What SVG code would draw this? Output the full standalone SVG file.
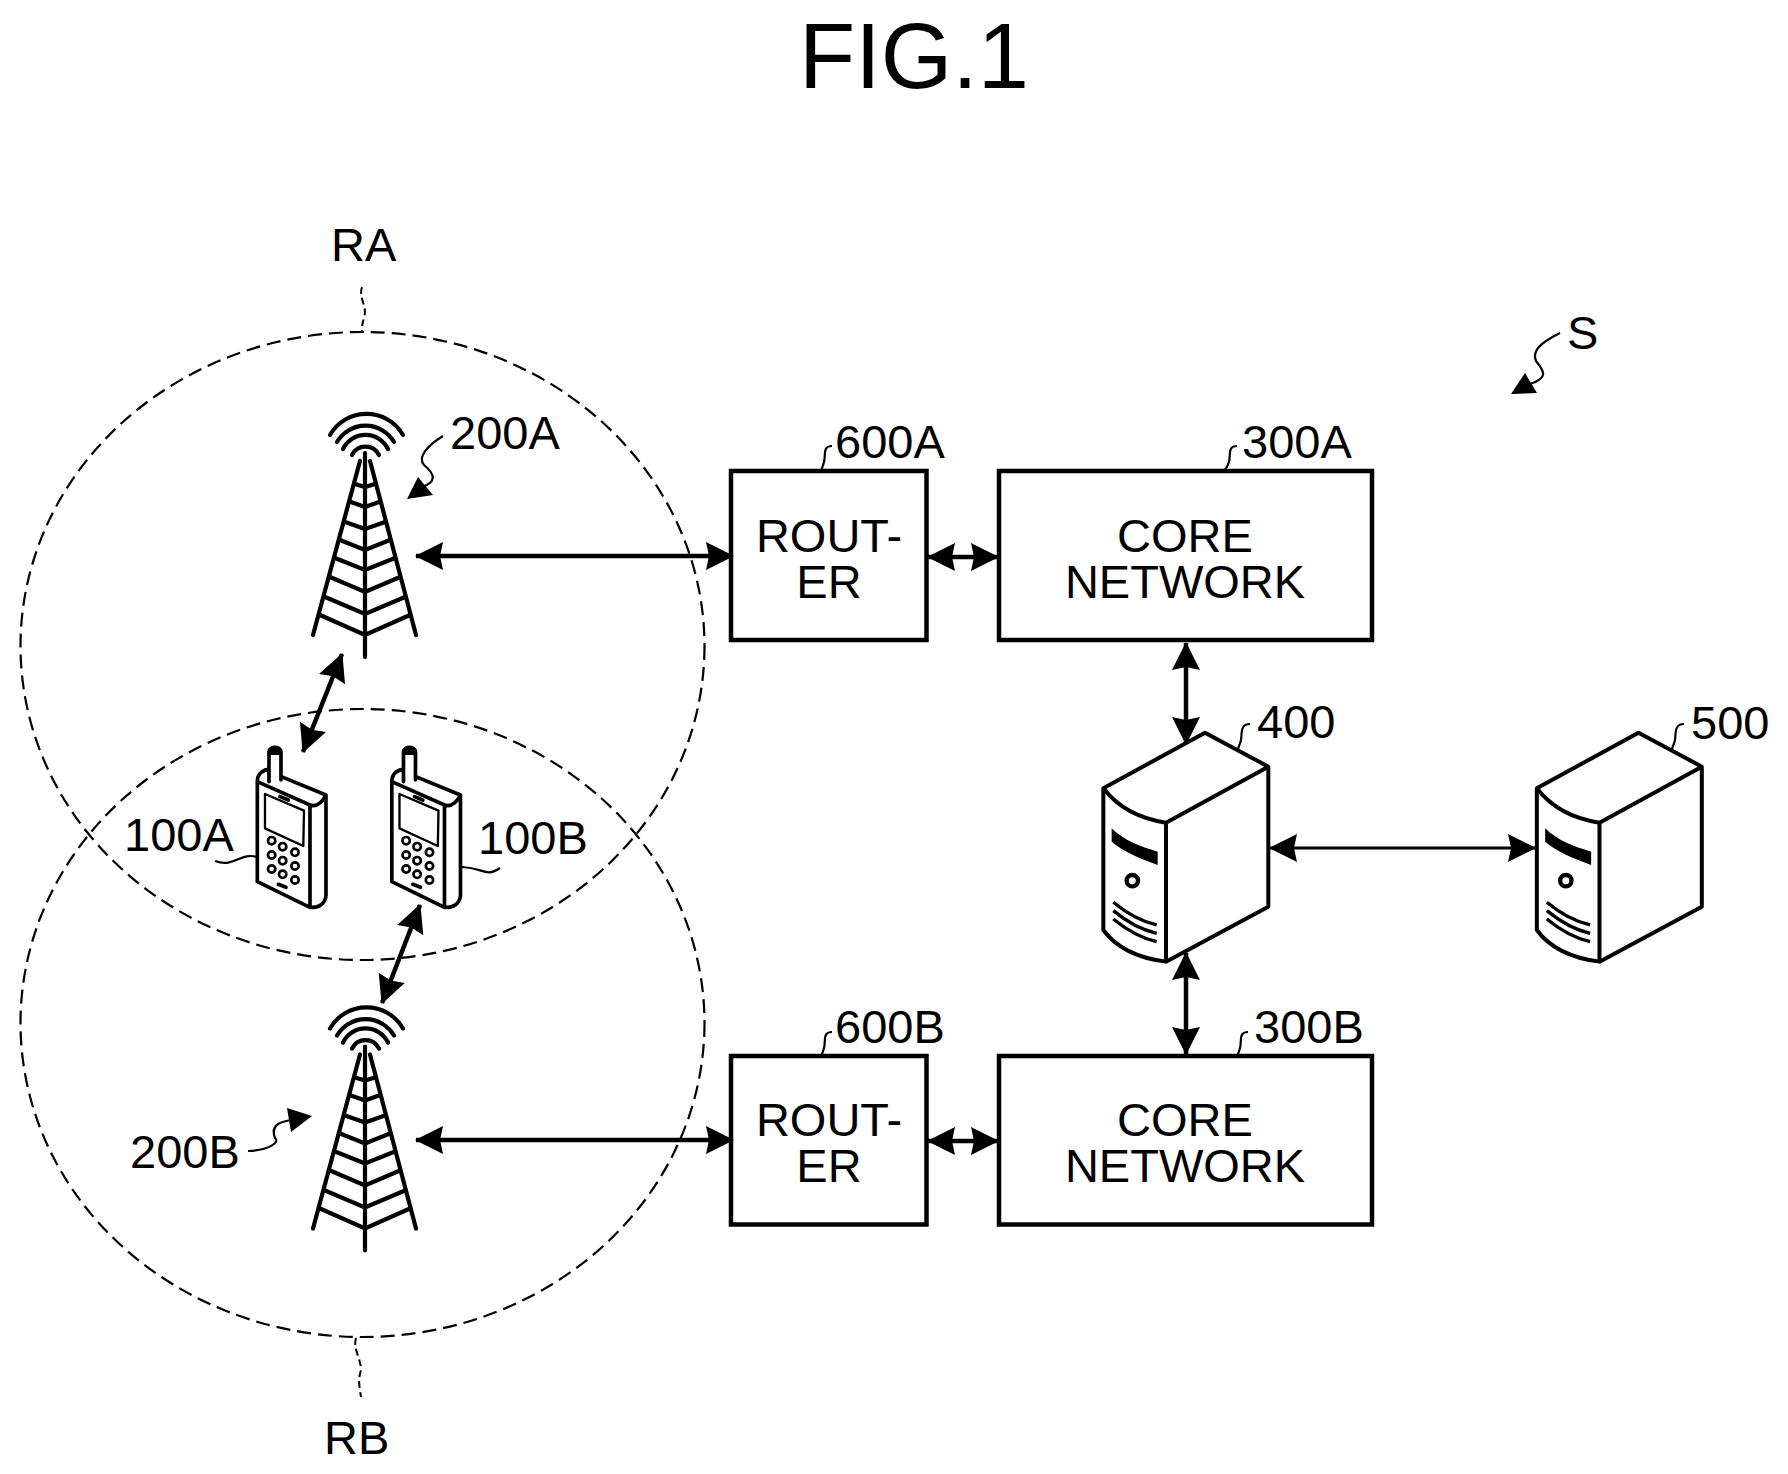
<svg xmlns="http://www.w3.org/2000/svg" width="1788" height="1474" viewBox="0 0 1788 1474">
<style>
text{font-family:"Liberation Sans",Arial,sans-serif;fill:#000;font-size:47px}
.m{text-anchor:middle}
.box{fill:#fff;stroke:#000;stroke-width:4.500}
.cell{fill:none;stroke:#000;stroke-width:2.200;stroke-dasharray:14 7}
.ld{fill:none;stroke:#000;stroke-width:2.200}
.dl{fill:none;stroke:#000;stroke-width:2;stroke-dasharray:7 4}
.a{fill:none;stroke:#000;stroke-width:4.500;marker-start:url(#ah);marker-end:url(#ah)}
.t{fill:none;stroke:#000;stroke-width:4.200;stroke-linecap:round}
.p{fill:none;stroke:#000;stroke-width:11;stroke-linejoin:round;stroke-linecap:round}
.s{fill:#fff;stroke:#000;stroke-width:12;stroke-linejoin:round}
</style>
<defs>
<marker id="ah" markerUnits="userSpaceOnUse" markerWidth="28" markerHeight="28" viewBox="0 0 28 28" refX="27" refY="14" orient="auto-start-reverse"><path d="M28,14 L0,0 L3,14 L0,28Z"/></marker>
<g id="tower">
<path class="t" d="M330,435A42,42 0 0 1 403,435M337,442A33,33 0 0 1 394,442M343,449A25,25 0 0 1 388,449M352,455A15,15 0 0 1 379,455"/>
<path class="t" d="M365,453V657M360,461L313,635M370,461L416,635"/>
<path class="t" d="M320,615L365,635L410,615M325,597L365,614L405,597M330,577L365,592L400,577M335,558L365,570L395,558M340,540L365,550L390,540M345,522L365,529L385,522M351,502L365,507L379,502M355,484L365,487L375,484"/>
</g>
<g id="phone">
<path d="M472,185C472,160 490,148 510,148L678,225L678,525C678,550 655,565 630,562L472,485Z" fill="#fff" stroke="none"/>
<path class="p" d="M520,160L678,225M472,185C472,160 490,148 510,148M472,180V485L630,562V255L472,185M630,255C650,262 665,250 678,225V525C678,550 655,565 630,562"/>
<path class="p" fill="#fff" style="fill:#fff" d="M507,185V95C507,78 543,78 543,95V180"/>
<path d="M507,105V92C507,76 543,76 543,92V105Z"/>
<path class="p" style="stroke-width:7" d="M495,222L612,272L610,378L495,325Z"/>
<path class="p" d="M540,230L565,240M535,493L558,502"/>
<g fill="#fff" stroke="#000" stroke-width="8"><circle cx="515" cy="362" r="11"/><circle cx="548" cy="380" r="11"/><circle cx="585" cy="397" r="11"/><circle cx="515" cy="405" r="11"/><circle cx="548" cy="422" r="11"/><circle cx="585" cy="438" r="11"/><circle cx="515" cy="447" r="11"/><circle cx="548" cy="463" r="11"/><circle cx="585" cy="480" r="11"/></g>
</g>
<g id="server">
<path class="s" d="M375,98L70,265V690C110,745 180,775 258,785L565,620V200Z"/>
<path class="s" fill="none" style="fill:none" d="M70,265C120,330 190,358 258,368L565,200M258,368V785"/>
<path d="M95,385C130,420 180,440 233,455V495C180,475 130,455 95,425Z"/>
<circle cx="157" cy="542" r="17" fill="#fff" stroke="#000" stroke-width="13"/>
<path class="s" style="fill:none;stroke-width:10" d="M100,607C140,640 185,665 230,675M100,632C140,665 185,690 230,700M100,657C140,690 185,715 230,725"/>
</g>
</defs>

<text class="m" x="914" y="88" style="font-size:92px">FIG.1</text>

<g id="cells">
<ellipse id="cell-RA" class="cell" cx="362.500" cy="646" rx="342" ry="314"/>
<ellipse id="cell-RB" class="cell" cx="362.500" cy="1023" rx="342" ry="314"/>
<text id="label-RA" x="331" y="261">RA</text>
<text id="label-RB" x="324" y="1454">RB</text>
<path class="dl" d="M362,287C358,298 368,306 364,318C362,324 362,328 362,332"/>
<path class="dl" d="M356,1338C352,1350 364,1362 360,1374C358,1382 360,1390 361,1397"/>
</g>

<g id="node-200A"><use href="#tower"/><text x="450" y="449">200A</text></g>
<g id="node-200B"><use href="#tower" y="593.500"/><text x="130" y="1168">200B</text></g>
<g id="node-100A"><use href="#phone" transform="translate(100,720) scale(.3333)"/><text x="124" y="851">100A</text></g>
<g id="node-100B"><use href="#phone" transform="translate(234.500,720) scale(.3333)"/><text x="478" y="854">100B</text></g>
<g id="node-600A"><rect class="box" x="731" y="471" width="195.500" height="169"/><text class="m" x="829" y="552">ROUT-</text><text class="m" x="829" y="598">ER</text><text x="835" y="458">600A</text></g>
<g id="node-300A"><rect class="box" x="999" y="471" width="373" height="169"/><text class="m" x="1185" y="552">CORE</text><text class="m" x="1185" y="598">NETWORK</text><text x="1242" y="458">300A</text></g>
<g id="node-600B"><rect class="box" x="731" y="1056" width="195.500" height="168.500"/><text class="m" x="829" y="1136">ROUT-</text><text class="m" x="829" y="1182">ER</text><text x="835" y="1043">600B</text></g>
<g id="node-300B"><rect class="box" x="999" y="1056" width="373" height="168.500"/><text class="m" x="1185" y="1136">CORE</text><text class="m" x="1185" y="1182">NETWORK</text><text x="1254" y="1043">300B</text></g>
<g id="node-400"><use href="#server" transform="translate(1080,700) scale(.3333)"/><text x="1257" y="738">400</text></g>
<g id="node-500"><use href="#server" transform="translate(1513.500,700) scale(.3333)"/><text x="1691" y="739">500</text></g>
<g id="node-S"><text x="1567" y="349">S</text></g>

<g id="connectors">
<path class="a" d="M416,556H733"/>
<path class="a" d="M416,1140H733"/>
<path class="a" d="M928,557H998"/>
<path class="a" d="M928,1141H998"/>
<path class="a" d="M1186,643V744"/>
<path class="a" d="M1186,953V1054"/>
<path class="a" style="stroke-width:3" d="M1270,848H1535"/>
<path class="a" d="M342,654L303,752"/>
<path class="a" d="M420,905L382,1003"/>
<g id="leaders">
<path class="ld" d="M1560,333C1538,344 1532,352 1536,361C1545,372 1548,378 1530,384"/><path d="M1511,394L1525,373L1537,393Z"/>
<path class="ld" d="M443,436C425,447 418,458 424,465C435,474 437,482 422,487"/><path d="M407,499L418,477L433,495Z"/>
<path class="ld" d="M248,1151C270,1150 280,1142 275,1138C270,1125 280,1122 291,1120"/><path d="M312,1116L287,1108L291,1132Z"/>
<path class="ld" d="M215,861C235,868 240,852 257,857"/>
<path class="ld" d="M462,867C485,868 485,878 500,868"/>
<path class="ld" d="M832,446C822,446 826,456 824,462C823,466 822,468 821,471"/>
<path class="ld" d="M1237,446C1227,446 1231,456 1229,462C1228,466 1226,468 1224,471"/>
<path class="ld" d="M832,1032C822,1032 826,1042 824,1048C823,1052 822,1054 821,1056"/>
<path class="ld" d="M1248,1032C1238,1032 1242,1042 1240,1048C1239,1052 1238,1054 1237,1056"/>
<path class="ld" d="M1250,724C1240,724 1242,734 1241,740C1240,744 1239,746 1238,749"/>
<path class="ld" d="M1684,724C1674,724 1676,734 1675,740C1674,744 1673,746 1672,749"/>
</g>
</g>
</svg>
